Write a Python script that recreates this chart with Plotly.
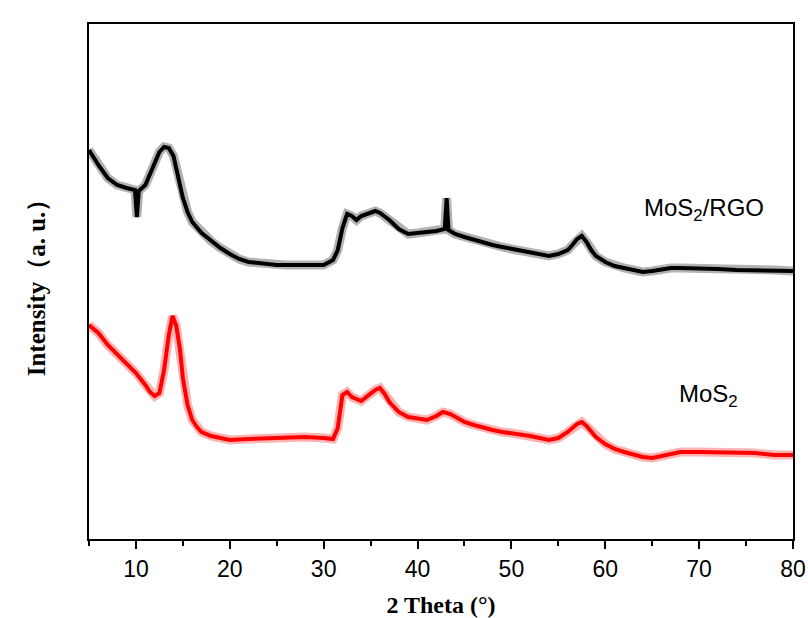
import plotly.graph_objects as go

# MoS2/RGO pattern (2θ in degrees, intensity in arbitrary units)
theta_rgo = [5, 6, 7, 8, 9, 9.9, 10.1, 10.3, 11, 12, 12.5, 13, 13.5, 14, 14.5, 15, 15.5, 16, 17, 18, 19, 20,
             21, 22, 23, 24, 25, 26, 27, 28, 29, 30, 31, 31.5, 32, 32.5, 33, 33.5, 34, 35, 35.5, 36,
             37, 38, 39, 40, 41, 42, 42.9, 43.1, 43.3, 44, 45, 46, 47, 48, 49, 50, 51, 52, 53, 54,
             55, 56, 56.5, 57, 57.5, 58, 58.5, 59, 60, 61, 62, 63, 64, 65, 66, 67, 68, 69, 70, 72,
             74, 76, 78, 80]
int_rgo = [3890, 3740, 3610, 3540, 3510, 3490, 3220, 3480, 3540, 3770, 3870, 3920, 3910, 3830, 3640, 3410,
           3270, 3170, 3060, 2980, 2910, 2850, 2800, 2770, 2760, 2740, 2740, 2740, 2740, 2740, 2750,
           2740, 2790, 2890, 3110, 3250, 3230, 3190, 3230, 3260, 3280, 3260, 3190, 3100, 3050, 3060,
           3070, 3080, 3100, 3410, 3090, 3050, 3020, 2990, 2960, 2940, 2920, 2900, 2880, 2860, 2840,
           2830, 2850, 2890, 2940, 3000, 3030, 2970, 2890, 2830, 2770, 2730, 2710, 2690, 2670, 2680,
           2700, 2710, 2710, 2710, 2710, 2700, 2690, 2690, 2690, 2680]

# MoS2 pattern
theta_mos2 = [5, 6, 7, 8, 9, 10, 11, 11.5, 12, 12.5, 13, 13.5, 13.9, 14.3, 14.7, 15, 15.5, 16, 16.5, 17,
              18, 19, 20, 22, 24, 26, 28, 30, 31, 31.5, 32, 32.5, 33, 34, 35, 35.5, 36, 36.5, 37, 38,
              39, 40, 41, 42, 42.7, 43.5, 44, 45, 46, 47, 48, 49, 50, 51, 52, 53, 54, 55, 56, 57,
              57.5, 58, 58.5, 59, 60, 61, 62, 63, 64, 65, 66, 67, 68, 70, 72, 74, 76, 78, 80]
int_mos2 = [2140, 2060, 1940, 1850, 1760, 1660, 1540, 1470, 1430, 1460, 1690, 2040, 2230, 2130, 1890,
            1610, 1340, 1190, 1120, 1070, 1030, 1010, 990, 1000, 1010, 1020, 1020, 1010, 1000, 1110,
            1440, 1470, 1420, 1380, 1460, 1490, 1510, 1450, 1370, 1270, 1220, 1200, 1190, 1230, 1270,
            1250, 1220, 1170, 1140, 1110, 1090, 1070, 1060, 1050, 1030, 1010, 990, 1010, 1070, 1150,
            1170, 1130, 1080, 1020, 950, 900, 870, 840, 820, 810, 830, 850, 870, 870, 870, 860, 860,
            840, 840]

x_ticks = [10, 20, 30, 40, 50, 60, 70, 80]
labels = ["MoS<sub>2</sub>/RGO", "MoS<sub>2</sub>"]
label_pos = [(70.5, 3300), (71.0, 1440)]

fig = go.Figure()
for xs, ys, halo, core in [(theta_rgo, int_rgo, "rgba(0,0,0,0.3)", "black"),
                           (theta_mos2, int_mos2, "rgba(255,0,0,0.3)", "#ff0000")]:
    fig.add_trace(go.Scatter(x=xs, y=ys, mode="lines",
                             line=dict(color=halo, width=9), showlegend=False, hoverinfo="skip"))
    fig.add_trace(go.Scatter(x=xs, y=ys, mode="lines",
                             line=dict(color=core, width=4), showlegend=False))

for txt, (lx, ly) in zip(labels, label_pos):
    fig.add_annotation(x=lx, y=ly, text=txt, showarrow=False,
                       font=dict(family="Liberation Sans, Arial", size=24, color="black"))

fig.update_layout(
    width=808, height=618,
    margin=dict(l=89, r=15, t=24, b=79),
    paper_bgcolor="white", plot_bgcolor="white",
    xaxis=dict(range=[5, 80], tickvals=x_ticks, ticks="outside", ticklen=8, tickwidth=1.5,
               tickcolor="black", showline=True, linecolor="black", linewidth=2, mirror=True,
               showgrid=False, zeroline=False, automargin=False,
               tickfont=dict(family="Liberation Sans Narrow, Arial Narrow, Liberation Sans", size=23, color="black"),
               minor=dict(dtick=5, tick0=5, ticks="outside", ticklen=5, tickwidth=1.5, tickcolor="black"),
               title=dict(text="<b>2 Theta (°)</b>", standoff=16,
                          font=dict(family="Liberation Serif, Times New Roman", size=24, color="black"))),
    yaxis=dict(range=[0, 5150], showticklabels=False, ticks="", showline=True, linecolor="black",
               linewidth=2, mirror=True, showgrid=False, zeroline=False, automargin=False,
               title=dict(text="<b>Intensity（a. u.）</b>", standoff=34,
                          font=dict(family="Liberation Serif, Times New Roman", size=25, color="black"))),
)

fig.write_html("out.html")
